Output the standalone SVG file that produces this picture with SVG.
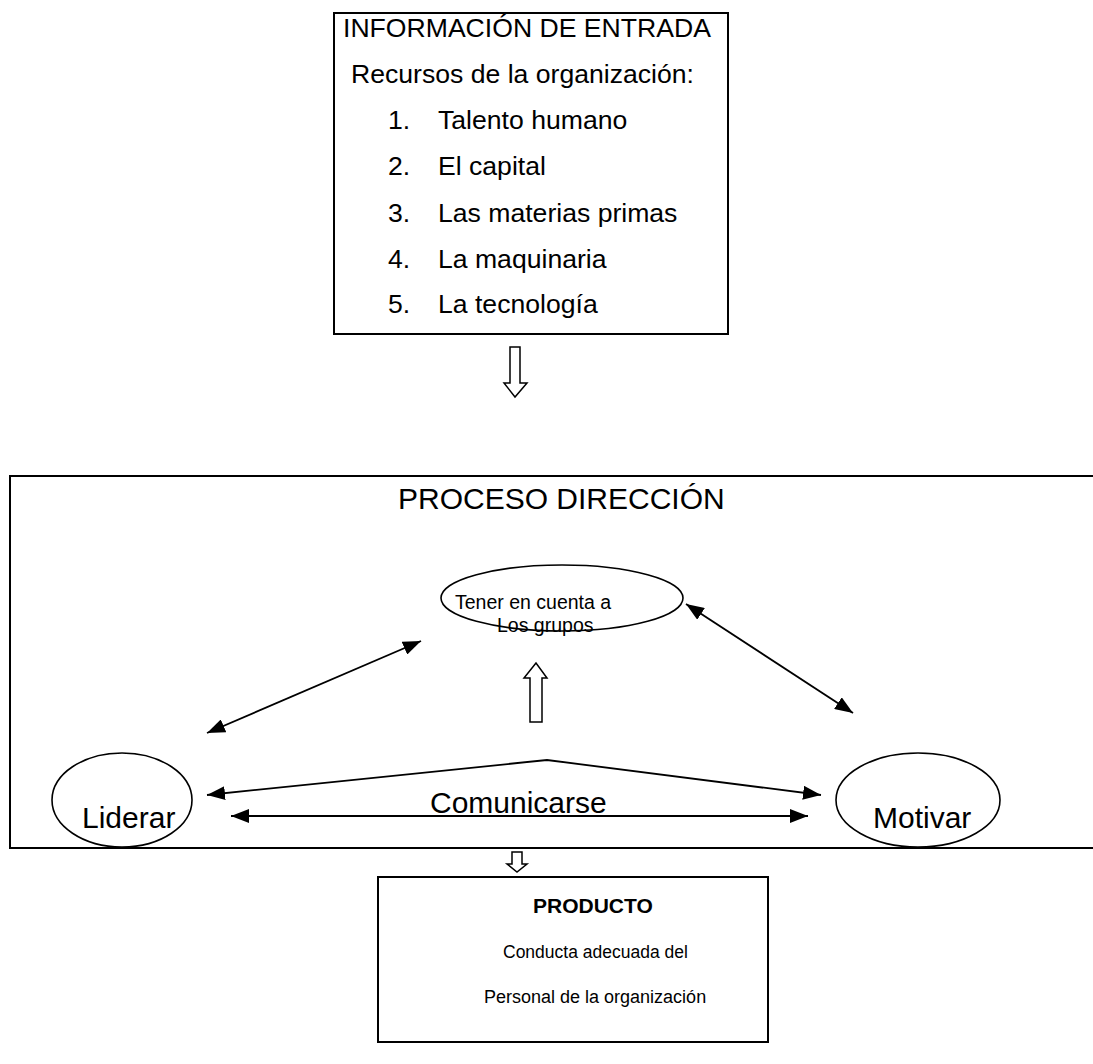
<svg xmlns="http://www.w3.org/2000/svg" width="1093" height="1064" viewBox="0 0 1093 1064">
  <style>
    .box { fill: #ffffff; stroke: #000000; stroke-width: 2; }
    .oval { fill: none; stroke: #000000; stroke-width: 1.6; }
    .t { font-family: "Liberation Sans", Arial, sans-serif; fill: #000000; }
    .in { font-size: 26.6px; }
    .big { font-size: 30px; }
    .link { fill: none; stroke: #000000; stroke-width: 1.8; }
    .hollow { fill: #ffffff; stroke: #000000; stroke-width: 1.5; stroke-linejoin: miter; }
  </style>
  <defs>
    <marker id="headL" viewBox="0 0 10 10" refX="10" refY="5" markerWidth="18" markerHeight="14" markerUnits="userSpaceOnUse" orient="auto-start-reverse" preserveAspectRatio="none">
      <path d="M0,0 L10,5 L0,10 z" fill="#000000"/>
    </marker>
  </defs>
  <rect width="1093" height="1064" fill="#ffffff"/>

  <!-- input information -->
  <g id="entrada">
    <rect class="box" x="334" y="13" width="394" height="321"/>
    <text class="t in" x="343" y="37">INFORMACIÓN DE ENTRADA</text>
    <text class="t in" x="351" y="83">Recursos de la organización:</text>
    <text class="t in" x="388" y="129">1.</text>
    <text class="t in" x="438" y="129">Talento humano</text>
    <text class="t in" x="388" y="175">2.</text>
    <text class="t in" x="438" y="175">El capital</text>
    <text class="t in" x="388" y="222">3.</text>
    <text class="t in" x="438" y="222">Las materias primas</text>
    <text class="t in" x="388" y="268">4.</text>
    <text class="t in" x="438" y="268">La maquinaria</text>
    <text class="t in" x="388" y="313">5.</text>
    <text class="t in" x="438" y="313">La tecnología</text>
  </g>

  <!-- management process frame (open on the right) -->
  <g id="proceso">
    <path class="box" d="M1100,476 H10 V848 H1100"/>
    <text class="t big" x="398" y="509">PROCESO DIRECCIÓN</text>
  </g>

  <g id="grupos">
    <ellipse class="oval" cx="562" cy="598" rx="121" ry="33"/>
    <text class="t" x="455" y="609" font-size="19.5">Tener en cuenta a</text>
    <text class="t" x="497" y="632" font-size="19.5">Los grupos</text>
  </g>

  <g id="liderar">
    <ellipse class="oval" cx="122" cy="800" rx="70" ry="47"/>
    <text class="t big" x="82" y="828">Liderar</text>
  </g>

  <g id="motivar">
    <ellipse class="oval" cx="918" cy="800" rx="82" ry="47"/>
    <text class="t big" x="873" y="828">Motivar</text>
  </g>

  <g id="comunicarse">
    <text class="t big" x="430" y="813">Comunicarse</text>
  </g>

  <!-- output -->
  <g id="producto">
    <rect class="box" x="378" y="877" width="390" height="165"/>
    <text class="t" x="533" y="913" font-size="21" font-weight="bold">PRODUCTO</text>
    <text class="t" x="503" y="958" font-size="17.5">Conducta adecuada del</text>
    <text class="t" x="484" y="1003" font-size="18">Personal de la organización</text>
  </g>

  <g id="connectors">
    <!-- hollow block arrows -->
    <path class="hollow" d="M510,347 H520 V383 H527 L515,397 L504,383 H510 Z"/>
    <path class="hollow" d="M530,722 V678 H524 L536,663 L547,678 H542 V722 Z"/>
    <path class="hollow" d="M512,852 H522 V864 H527 L517,872 L507,864 H512 Z"/>
    <!-- double-headed links -->
    <line class="link" x1="207" y1="733" x2="421" y2="641" marker-start="url(#headL)" marker-end="url(#headL)"/>
    <line class="link" x1="686" y1="604" x2="853" y2="713" marker-start="url(#headL)" marker-end="url(#headL)"/>
    <polyline class="link" points="207,795 547,760 821,795" marker-start="url(#headL)" marker-end="url(#headL)"/>
    <line class="link" x1="231" y1="816" x2="808" y2="816" marker-start="url(#headL)" marker-end="url(#headL)"/>
  </g>
</svg>
